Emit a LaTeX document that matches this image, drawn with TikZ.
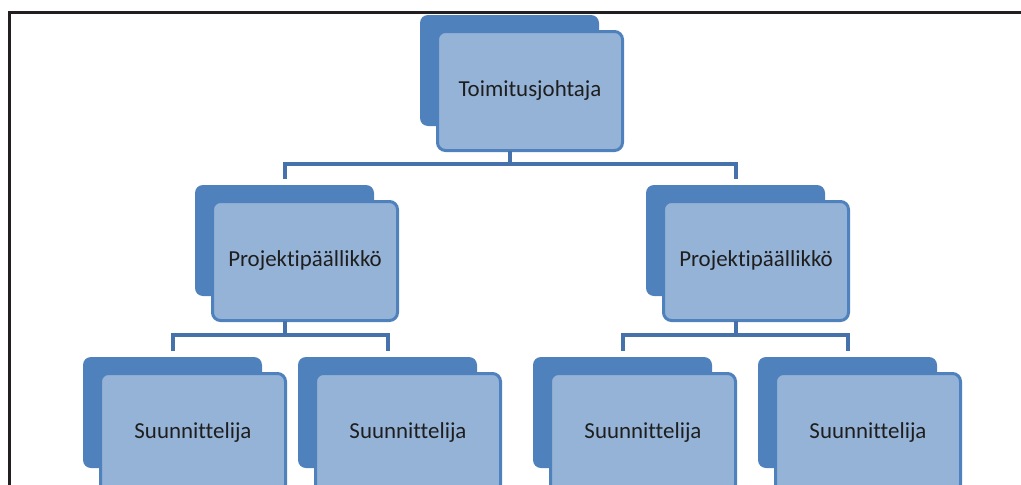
\documentclass[tikz,border=0pt]{standalone}
\usepackage{fontspec}
\setmainfont{Carlito}[Ligatures=NoCommon]
\usetikzlibrary{calc}
\definecolor{backblue}{RGB}{79,129,189}
\definecolor{frontfill}{RGB}{149,179,215}
\definecolor{connblue}{RGB}{70,114,172}
\definecolor{framegray}{RGB}{35,31,32}
\definecolor{txt}{RGB}{30,30,30}
\tikzset{
  backbox/.style={fill=backblue, draw=none, rounded corners=8pt, minimum width=179pt, minimum height=111pt, inner sep=0pt, outer sep=0pt},
  frontbox/.style={fill=frontfill, draw=backblue, line width=3pt, rounded corners=8pt, minimum width=185pt, minimum height=119pt, inner sep=0pt, outer sep=0pt, text=txt, font=\fontsize{22.9pt}{26pt}\selectfont},
  conn/.style={draw=connblue, line width=4pt},
  frameline/.style={draw=framegray, line width=3pt}
}
\begin{document}
\begin{tikzpicture}[x=1pt,y=-1pt]
\useasboundingbox (0,0) rectangle (1021,485);
\clip (0,0) rectangle (1021,485);
\fill[white] (0,0) rectangle (1021,485);
% frame
\coordinate (fr1) at (1022,12);
\coordinate (fr2) at (9,12);
\coordinate (fr3) at (9,486);
\draw[frameline] (fr1) -- (fr2) -- (fr3);
% back boxes
\node[backbox] (tb) at (509.5,70.5) {};
\node[backbox] (lb) at (284.5,240.5) {};
\node[backbox] (rb) at (735.5,240.5) {};
\node[backbox] (b1b) at (172.5,412.5) {};
\node[backbox] (b2b) at (387.5,412.5) {};
\node[backbox] (b3b) at (622.5,412.5) {};
\node[backbox] (b4b) at (847.5,412.5) {};
% front boxes
\node[frontbox] (tf) at (530,91) {Toimitusjohtaja};
\node[frontbox] (lf) at (305,261) {Projektipäällikkö};
\node[frontbox] (rf) at (756,261) {Projektipäällikkö};
\node[frontbox] (b1f) at (193,433) {Suunnittelija};
\node[frontbox] (b2f) at (408,433) {Suunnittelija};
\node[frontbox] (b3f) at (643,433) {Suunnittelija};
\node[frontbox] (b4f) at (868,433) {Suunnittelija};
% connectors
\draw[conn] (tb |- tf.south) -- ++(0,13) coordinate (j1);
\draw[conn] ($(lb.north)+(0,-6)$) |- (j1) -| ($(rb.north)+(0,-6)$);
\draw[conn] (lb |- lf.south) -- ++(0,14) coordinate (j2);
\draw[conn] ($(b1b.north)+(0,-6)$) |- (j2) -| ($(b2b.north)+(0,-6)$);
\draw[conn] (rb |- rf.south) -- ++(0,14) coordinate (j3);
\draw[conn] ($(b3b.north)+(0,-6)$) |- (j3) -| ($(b4b.north)+(0,-6)$);
\end{tikzpicture}
\end{document}
